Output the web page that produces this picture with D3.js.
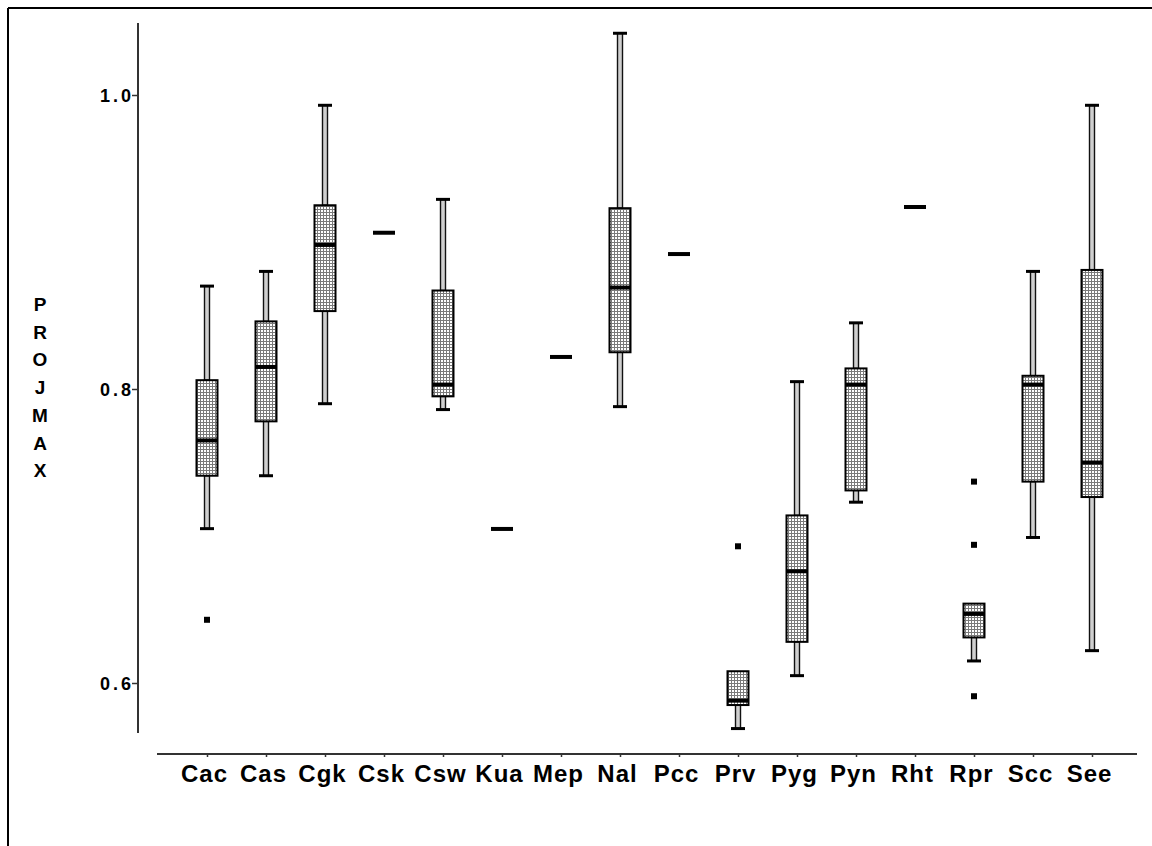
<!DOCTYPE html>
<html><head><meta charset="utf-8">
<script src="https://cdn.jsdelivr.net/npm/d3@7"></script>
<style>body{margin:0;background:#fff;}svg{display:block;}</style>
</head><body>
<script>
const categories = ["Cac","Cas","Cgk","Csk","Csw","Kua","Mep","Nal","Pcc","Prv","Pyg","Pyn","Rht","Rpr","Scc","See"];
const whiskerLow  = [0.705,0.741,0.790,0.9063,0.786,0.7048,0.8218,0.788,0.8918,0.569,0.605,0.723,0.9238,0.615,0.699,0.622];
const q1          = [0.741,0.778,0.853,0.9063,0.795,0.7048,0.8218,0.825,0.8918,0.585,0.628,0.731,0.9238,0.631,0.737,0.7265];
const medians     = [0.765,0.815,0.898,0.9063,0.803,0.7048,0.8218,0.869,0.8918,0.588,0.676,0.803,0.9238,0.647,0.803,0.750];
const q3          = [0.806,0.846,0.925,0.9063,0.867,0.7048,0.8218,0.923,0.8918,0.608,0.714,0.814,0.9238,0.654,0.809,0.881];
const whiskerHigh = [0.870,0.880,0.993,0.9063,0.929,0.7048,0.8218,1.042,0.8918,0.608,0.805,0.845,0.9238,0.654,0.880,0.993];
const outliers    = [[0.643],[],[],[],[],[],[],[],[],[0.693],[],[],[],[0.737,0.694,0.591],[],[]];
const yTicks = [0.6, 0.8, 1.0];
const yTickLabels = ["0.6","0.8","1.0"];
const yTitle = "PROJMAX";

const W = 1152, H = 846;
const svg = d3.select("body").append("svg").attr("width", W).attr("height", H);

const defs = svg.append("defs");
const pat = defs.append("pattern").attr("id","dots").attr("patternUnits","userSpaceOnUse")
  .attr("width",3).attr("height",3);
pat.append("rect").attr("width",3).attr("height",3).attr("fill","#ffffff");
pat.append("rect").attr("x",2).attr("width",1).attr("height",3).attr("fill","#7a7a7a");
pat.append("rect").attr("y",2).attr("width",3).attr("height",1).attr("fill","#7a7a7a");

// frame
svg.append("line").attr("x1",8).attr("y1",8).attr("x2",W).attr("y2",8).attr("stroke","#000").attr("stroke-width",2);
svg.append("line").attr("x1",8).attr("y1",8).attr("x2",8).attr("y2",H).attr("stroke","#000").attr("stroke-width",2);

const x = d3.scalePoint().domain(categories).range([207, 1092]);
const y = d3.scaleLinear().domain([0.6, 1.0]).range([683, 95]);

// y axis
const yAxisG = svg.append("g").attr("transform","translate(138,0)")
  .call(d3.axisLeft(y).tickValues(yTicks).tickSize(6).tickFormat((d,i)=>yTickLabels[i]));
yAxisG.select(".domain").remove();
yAxisG.append("line").attr("x1",0).attr("x2",0).attr("y1",y(1.049)).attr("y2",y(0.566))
  .attr("stroke","#333").attr("stroke-width",2);
yAxisG.selectAll(".tick line").attr("stroke","#333").attr("stroke-width",1.5);
yAxisG.selectAll(".tick text").attr("x",-4).attr("dy","0.36em")
  .style("font-family","'Liberation Sans', Arial, sans-serif").style("font-weight","bold")
  .style("font-size","18px").style("letter-spacing","3px").attr("fill","#000");

// y title vertical letters
const yt = svg.append("text").attr("text-anchor","middle")
  .style("font-family","'Liberation Sans', Arial, sans-serif").style("font-weight","bold").style("font-size","19px");
yTitle.split("").forEach((ch,i)=>{
  yt.append("tspan").attr("x",40).attr("y",311 + i*27.7).text(ch);
});

// x axis
const xAxisG = svg.append("g").attr("transform","translate(0,754)")
  .call(d3.axisBottom(x).tickSize(3).tickSizeOuter(0).tickPadding(0));
xAxisG.select(".domain").remove();
xAxisG.append("line").attr("x1",157).attr("x2",1137).attr("y1",0).attr("y2",0).attr("stroke","#333").attr("stroke-width",2);
xAxisG.selectAll(".tick line").attr("stroke","#333").attr("stroke-width",1.5);
xAxisG.selectAll(".tick text").attr("y",28).attr("dy",0).attr("dx",-3)
  .style("font-family","'Liberation Sans', Arial, sans-serif").style("font-weight","bold")
  .style("font-size","24px").style("letter-spacing","1px").attr("fill","#000");

// boxes
const bw = 21, cw = 14, ww = 5;
const g = svg.append("g");
categories.forEach((c,i)=>{
  const cx = x(c);
  if (whiskerHigh[i] > q3[i]) {
    g.append("rect").attr("x",cx-ww/2).attr("y",y(whiskerHigh[i])).attr("width",ww)
      .attr("height",y(q3[i])-y(whiskerHigh[i])).attr("fill","#cfcfcf").attr("stroke","#111").attr("stroke-width",1.4);
    g.append("line").attr("x1",cx-cw/2).attr("x2",cx+cw/2).attr("y1",y(whiskerHigh[i])).attr("y2",y(whiskerHigh[i]))
      .attr("stroke","#000").attr("stroke-width",3);
  }
  if (whiskerLow[i] < q1[i]) {
    g.append("rect").attr("x",cx-ww/2).attr("y",y(q1[i])).attr("width",ww)
      .attr("height",y(whiskerLow[i])-y(q1[i])).attr("fill","#cfcfcf").attr("stroke","#111").attr("stroke-width",1.4);
    g.append("line").attr("x1",cx-cw/2).attr("x2",cx+cw/2).attr("y1",y(whiskerLow[i])).attr("y2",y(whiskerLow[i]))
      .attr("stroke","#000").attr("stroke-width",3);
  }
  if (q3[i] > q1[i]) {
    g.append("rect").attr("x",cx-bw/2).attr("y",y(q3[i])).attr("width",bw)
      .attr("height",y(q1[i])-y(q3[i])).attr("fill","url(#dots)").attr("stroke","#000").attr("stroke-width",2);
  }
  g.append("line").attr("x1",cx-bw/2-0.5).attr("x2",cx+bw/2+0.5).attr("y1",y(medians[i])).attr("y2",y(medians[i]))
    .attr("stroke","#000").attr("stroke-width",4);
  outliers[i].forEach(v=>{
    g.append("rect").attr("x",cx-3).attr("y",y(v)-3).attr("width",6).attr("height",6).attr("fill","#000");
  });
});
</script>
</body></html>
